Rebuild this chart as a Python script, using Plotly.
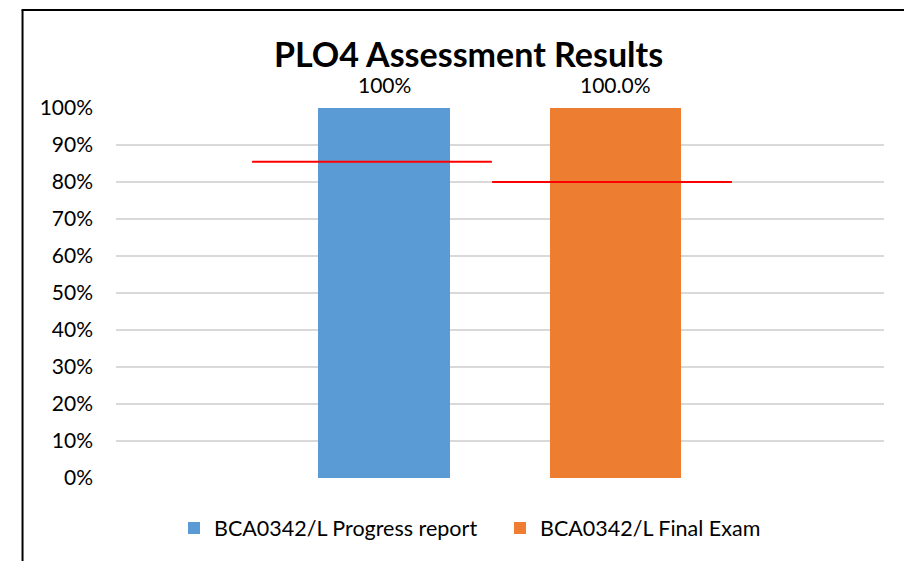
import plotly.graph_objects as go

categories = ["BCA0342/L Progress report", "BCA0342/L Final Exam"]
values = [100, 100]
value_labels = ["100%", "100.0%"]
targets = [85.5, 80]
colors = ["#5B9BD5", "#ED7D31"]
y_ticks = list(range(0, 101, 10))
y_tick_labels = [f"{v}%" for v in y_ticks]

positions = [1, 2]
target_offsets = [-0.052, -0.015]
FONT = "Lato, Calibri, Carlito, sans-serif"

fig = go.Figure()
for pos, cat, val, lab, col in zip(positions, categories, values, value_labels, colors):
    fig.add_trace(go.Bar(
        x=[pos], y=[val], name=cat, marker=dict(color=col, line=dict(width=0)),
        width=0.57, cliponaxis=False,
    ))
    fig.add_annotation(x=pos, y=val, text=lab, showarrow=False, yanchor="bottom",
                       yshift=9, font=dict(size=21, color="#000000", family=FONT))

for pos, t, off in zip(positions, targets, target_offsets):
    c = pos + off
    fig.add_trace(go.Scatter(
        x=[c - 0.518, c + 0.518], y=[t, t], mode="lines",
        line=dict(color="#FF0000", width=2), showlegend=False, hoverinfo="skip",
    ))

# chart border (left + top visible)
fig.add_shape(type="line", xref="paper", yref="paper", x0=-0.1217, x1=-0.1217,
              y0=1.2649, y1=-0.3, line=dict(color="black", width=2))
fig.add_shape(type="line", xref="paper", yref="paper", x0=-0.1230, x1=1.1,
              y0=1.2649, y1=1.2649, line=dict(color="black", width=2))

fig.update_layout(
    width=912, height=561,
    margin=dict(l=108, r=36, t=100, b=91),
    paper_bgcolor="white", plot_bgcolor="white",
    font=dict(family=FONT, color="#000000"),
    title=dict(text="<b>PLO4 Assessment Results</b>", x=0.459, xref="paper", xanchor="center",
               y=1 - 47 / 561, yref="container", yanchor="middle",
               font=dict(size=34, family=FONT, color="#000000")),
    showlegend=True,
    legend=dict(orientation="h", x=0.50, xanchor="center", y=-0.08, yanchor="top",
                font=dict(size=21.5, family=FONT, color="#000000"), traceorder="normal",
                itemwidth=30, entrywidth=281, entrywidthmode="pixels"),
    bargap=0,
)
fig.update_xaxes(range=[-0.158, 3.160], visible=False, showgrid=False, zeroline=False)
fig.update_yaxes(range=[0, 100], tickvals=y_ticks, ticktext=y_tick_labels,
                 showgrid=True, gridcolor="#D9D9D9", gridwidth=1.5, zeroline=False,
                 showline=False, ticks="", ticklabelstandoff=22,
                 tickfont=dict(size=21, family=FONT, color="#000000"))

fig.write_html("out.html")
